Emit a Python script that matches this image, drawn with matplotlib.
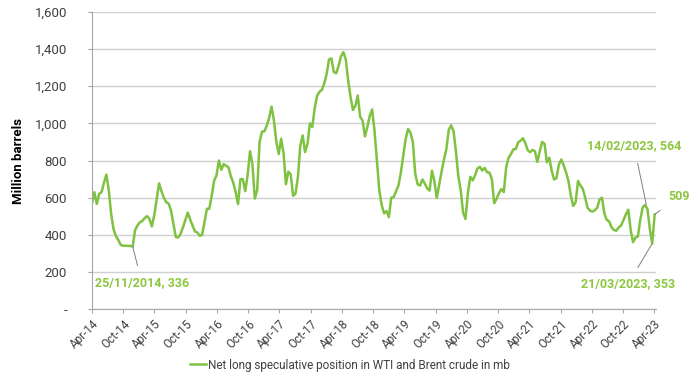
import matplotlib
matplotlib.use('Agg')
import matplotlib.pyplot as plt
import matplotlib.dates as mdates
import matplotlib.ticker as mticker
import numpy as np
import pandas as pd

plt.rcParams['font.family'] = ['Roboto', 'DejaVu Sans']

# posicion neta larga especulativa WTI + Brent (mb), datos cada dos semanas
fechas = pd.date_range('2014-04-01', '2023-04-04', freq='14D')
posicion = [
    570, 629, 566, 620, 630, 680, 724, 640, 512, 430,
    392, 372, 345, 341, 341, 340, 340, 336, 425, 450,
    467, 474, 490, 500, 485, 445, 505, 590, 677, 635,
    600, 575, 568, 530, 460, 388, 385, 405, 440, 480,
    520, 482, 450, 418, 412, 394, 400, 470, 540, 540,
    610, 690, 720, 800, 750, 780, 772, 763, 715, 680,
    630, 565, 700, 700, 635, 720, 850, 780, 595, 640,
    900, 955, 957, 988, 1030, 1090, 1015, 900, 835, 917,
    840, 672, 740, 725, 610, 621, 710, 880, 935, 845,
    890, 1000, 980, 1080, 1148, 1170, 1180, 1215, 1265, 1345,
    1350, 1277, 1270, 1310, 1361, 1384, 1345, 1230, 1140, 1072,
    1095, 1150, 1035, 1016, 930, 980, 1040, 1075, 960, 800,
    640, 560, 515, 528, 495, 600, 603, 635, 665, 735,
    825, 915, 970, 950, 900, 730, 672, 665, 698, 676,
    650, 638, 745, 690, 598, 670, 740, 805, 860, 965,
    990, 958, 850, 715, 640, 520, 485, 625, 712, 693,
    720, 757, 766, 746, 760, 737, 735, 700, 570, 595,
    625, 646, 630, 765, 815, 835, 860, 862, 898, 907,
    920, 893, 855, 845, 857, 850, 792, 848, 900, 890,
    790, 815, 745, 698, 705, 778, 805, 775, 736, 690,
    610, 555, 575, 690, 665, 647, 600, 545, 530, 525,
    532, 545, 590, 600, 515, 480, 472, 440, 425, 422,
    440, 450, 480, 510, 535, 425, 360, 385, 390, 480,
    548, 560, 539, 430, 353, 509,
]

# puntos destacados
notas_fechas = ['2014-11-25', '2023-02-14', '2023-03-21', '2023-04-04']
notas_valores = [336, 564, 353, 509]
notas_textos = ['25/11/2014, 336', '14/02/2023, 564', '21/03/2023, 353', '509']

verde = '#7fc241'
verde_txt = '#8dc63f'

fig = plt.figure(figsize=(7, 3.81), dpi=100)
ax = fig.add_axes([92/700, 1 - 309/381, (656 - 92)/700, (309 - 12)/381])

ax.plot(fechas, posicion, color=verde, lw=1.8,
        label='Net long speculative position in WTI and Brent crude in mb')

ax.set_ylim(0, 1600)
ax.set_xlim(pd.Timestamp('2014-04-01'), pd.Timestamp('2023-04-12'))
ax.yaxis.set_major_locator(mticker.MultipleLocator(200))
ax.yaxis.set_major_formatter(mticker.FuncFormatter(
    lambda v, p: '-' if v == 0 else '{:,.0f}'.format(v)))
ax.xaxis.set_major_locator(mdates.MonthLocator(bymonth=[4, 10]))
ax.xaxis.set_major_formatter(mdates.DateFormatter('%b-%y'))

ax.grid(axis='y', color='#d0d0d0', lw=1)
ax.set_axisbelow(True)
for lado in ['top', 'right']:
    ax.spines[lado].set_visible(False)
ax.spines['left'].set_color('#a6a6a6')
ax.spines['bottom'].set_color('#a6a6a6')
ax.tick_params(axis='y', length=3, color='#a6a6a6', labelsize=9.5,
               labelcolor='#404040', pad=15)
ax.tick_params(axis='x', length=3, color='#a6a6a6', labelsize=8.5,
               labelcolor='#404040', pad=3)
plt.setp(ax.get_xticklabels(), rotation=45, ha='right', rotation_mode='anchor')
ax.set_ylabel('Million barrels', fontsize=9.5, fontweight='bold')
ax.yaxis.set_label_coords(-0.118, 0.5)

# etiquetas con lineas guia (posicion del texto en pixeles de figura)
pos_texto = [(142, 381 - 283), (634, 381 - 146), (628, 381 - 284), (679, 381 - 196)]
for f, v, t, (tx, ty) in zip(notas_fechas, notas_valores, notas_textos, pos_texto):
    ax.annotate(t, xy=(pd.Timestamp(f), v), xytext=(tx, ty),
                textcoords='figure pixels', ha='center', va='center',
                fontsize=9, fontweight='bold', color=verde_txt,
                arrowprops=dict(arrowstyle='-', color='#7f7f7f', lw=0.7,
                                shrinkA=6, shrinkB=0))

fig.legend(loc='center', bbox_to_anchor=(0.5, 1 - 365/381), frameon=False,
           fontsize=8.5, handlelength=1.3, handletextpad=0.2,
           labelcolor='#404040')

plt.savefig('out.png', dpi=100)
